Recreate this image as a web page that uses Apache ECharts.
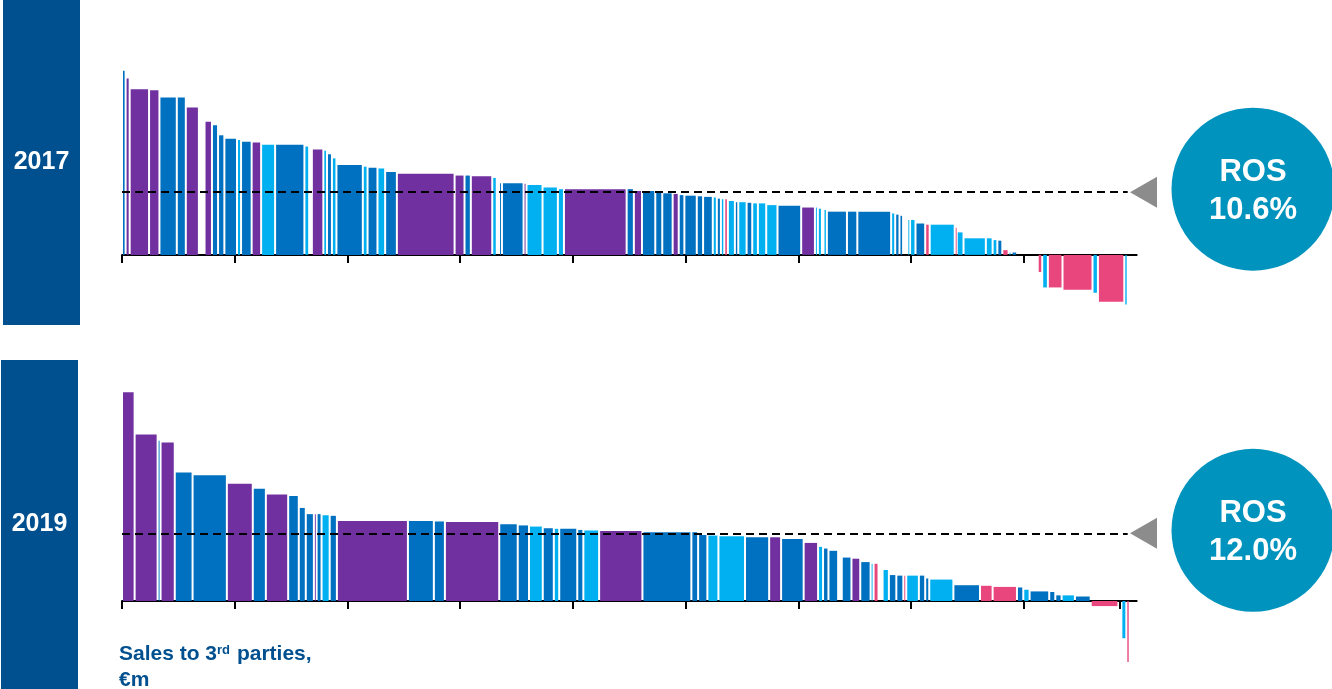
<!DOCTYPE html>
<html>
<head>
<meta charset="utf-8">
<title>ROS by business unit, 2017 vs 2019</title>
<script src="https://cdn.jsdelivr.net/npm/echarts@6/dist/echarts.min.js"></script>
<style>
  html, body { margin: 0; padding: 0; background: #ffffff; }
  #chart { width: 1332px; height: 689px; }
</style>
</head>
<body>
<div id="chart"></div>
<script>
// Panel years and their average return on sales (%)
const years = ['2017', '2019'];
const rosAverage = [10.6, 12.0];

// Segment codes: P, B, L, K = the four business segments, '-' = unit not shown
// 2017: sales to 3rd parties (€m) = bar width, ROS (%) = bar height, sorted by ROS
const sales2017 = [16, 18, 86, 46, 77, 40, 58, 25, 33, 27, 28, 56, 18, 47, 42, 62, 130, 21, 12, 51,
  16, 22, 20, 117, 21, 44, 34, 52, 256, 44, 28, 95, 20, 10, 13, 96, 13, 71, 68, 27,
  278, 32, 36, 59, 31, 46, 27, 25, 55, 28, 43, 18, 18, 15, 16, 31, 15, 37, 25, 25,
  37, 50, 105, 61, 13, 18, 7, 15, 89, 46, 150, 18, 19, 16, 19, 12, 24, 43, 20, 111,
  9, 30, 99, 30, 21, 22, 28, 13, 25, 91, 20, 25, 65, 133, 24, 117, 15];
const ros2017 = [31.1, 29.8, 28.0, 27.8, 26.6, 26.6, 24.9, null, 22.5, 21.9, 20.2, 19.6, 19.4, 19.1, 19.0, 18.6, 18.6, 18.3, null, 17.8,
  17.6, 17.0, 16.3, 15.2, 14.9, 14.7, 14.6, 14.0, 13.7, 13.4, 13.4, 13.3, 13.0, null, 12.1, 12.1, 12.0, 11.8, 11.4, 11.1,
  11.1, 11.1, 10.8, 10.8, 10.5, 10.4, 10.3, 10.1, 10.0, 9.9, 9.8, 9.7, 9.5, 9.4, 9.4, 9.1, 8.9, 8.9, 8.8, 8.7,
  8.7, 8.4, 8.3, 8.0, 8.0, 7.8, null, 7.6, 7.3, 7.3, 7.3, 7.0, 6.8, 6.6, null, 5.9, 5.9, 5.3, 5.1, 5.1,
  4.6, 3.8, 2.8, 2.8, 2.5, 2.4, 0.8, 0.4, 0.4, null, -2.9, -5.5, -5.5, -5.9, -6.4, -7.9, -8.4];
const seg2017 = ['B', 'P', 'P', 'P', 'B', 'B', 'P', '-', 'P', 'B', 'B', 'B', 'L', 'B', 'P', 'L', 'B', 'L', '-', 'P',
  'L', 'B', 'L', 'B', 'L', 'B', 'L', 'B', 'P', 'P', 'B', 'P', 'L', '-', 'B', 'B', 'P', 'L', 'L', 'L',
  'P', 'B', 'P', 'B', 'B', 'B', 'P', 'B', 'B', 'B', 'B', 'L', 'B', 'L', 'K', 'L', 'B', 'L', 'B', 'L',
  'L', 'L', 'B', 'P', 'L', 'L', '-', 'L', 'B', 'B', 'B', 'L', 'B', 'B', '-', 'L', 'L', 'B', 'K', 'L',
  'K', 'L', 'L', 'L', 'L', 'B', 'K', 'L', 'B', '-', 'K', 'L', 'K', 'K', 'L', 'K', 'L'];

// 2019
const sales2019 = [56, 102, 13, 63, 79, 152, 115, 58, 99, 47, 31, 36, 12, 22, 36, 32, 315, 115, 49, 241,
  82, 50, 61, 49, 24, 80, 27, 70, 192, 217, 30, 41, 49, 118, 107, 53, 100, 64, 22, 24,
  43, 16, 43, 39, 46, 13, 22, 18, 28, 33, 31, 13, 56, 28, 18, 107, 118, 56, 108, 28,
  28, 87, 27, 28, 59, 70, 123, 13, 22, 15];
const ros2019 = [37.0, 29.5, 28.4, 28.1, 22.8, 22.3, 20.8, 19.9, 18.9, 18.6, 16.5, 15.4, 15.4, 15.4, 15.2, 15.1, 14.2, 14.2, 14.1, 14.0,
  13.6, 13.4, 13.2, 12.9, 12.8, 12.8, 12.6, 12.5, 12.4, 12.2, 12.2, 11.7, 11.6, 11.5, 11.3, 11.3, 11.0, 10.3, 9.6, 9.3,
  8.9, null, 7.7, 7.5, 6.9, 6.6, 6.6, null, 5.5, 4.6, 4.5, 4.5, 4.5, 4.5, 4.0, 3.8, 2.8, 2.7, 2.5, 2.4,
  2.0, 1.7, 1.6, 1.0, 1.0, 0.8, -0.9, null, -6.6, -10.8];
const seg2019 = ['P', 'P', 'B', 'P', 'B', 'B', 'P', 'B', 'P', 'B', 'B', 'B', 'P', 'B', 'L', 'B', 'P', 'B', 'B', 'P',
  'B', 'B', 'L', 'B', 'L', 'B', 'B', 'L', 'P', 'B', 'B', 'B', 'L', 'L', 'B', 'P', 'B', 'P', 'L', 'B',
  'B', '-', 'B', 'P', 'B', 'L', 'K', '-', 'L', 'B', 'B', 'K', 'L', 'B', 'B', 'L', 'B', 'K', 'K', 'B',
  'L', 'B', 'B', 'B', 'L', 'B', 'K', '-', 'L', 'K'];

// Position of the axis ticks along the sales axis (€m); the last one marks total sales
const salesTicks = [0, 500, 1000, 1500, 2000, 2500, 3000, 3500, 4000, 4425];

// ---- styling ----
const SEG_COLORS = { P: '#7030A0', B: '#0070C0', L: '#00B0F0', K: '#E8467C' };
const SEG_KEYS = ['P', 'B', 'L', 'K'];
const DARK_BLUE = '#00508F';
const BUBBLE = '#0093BD';
const FONT = '"Liberation Sans", Arial, Helvetica, sans-serif';
const BAR_GAP = 2;          // white gap between neighbouring units, px
const DASH_END = 4460;      // where the average line stops, €m

// Cumulative x-range of each unit; units marked '-' take up room but draw nothing
function buildBars(sales, ros, seg) {
  const out = [];
  let acc = 0;
  for (let i = 0; i < sales.length; i++) {
    if (ros[i] !== null && seg[i] !== '-') {
      out.push([acc, acc + sales[i], ros[i], SEG_KEYS.indexOf(seg[i])]);
    }
    acc += sales[i];
  }
  return out;
}

function renderBar(params, api) {
  const p0 = api.coord([api.value(0), 0]);
  const p1 = api.coord([api.value(1), api.value(2)]);
  const w = Math.max(p1[0] - p0[0] - BAR_GAP, 0.9);
  const y = Math.min(p0[1], p1[1]);
  const h = Math.abs(p1[1] - p0[1]);
  return {
    type: 'rect',
    shape: { x: p0[0] + 1, y: y, width: w, height: h },
    style: { fill: SEG_COLORS[SEG_KEYS[api.value(3)]] }
  };
}

const panelBars = [buildBars(sales2017, ros2017, seg2017), buildBars(sales2019, ros2019, seg2019)];

// grid geometry per panel
const panels = [
  { top: 40, height: 280, min: -11.0, max: 36.3 },
  { top: 380, height: 290, min: -12.23, max: 39.18 }
];

const chart = echarts.init(document.getElementById('chart'), null, { renderer: 'canvas' });

const option = {
  animation: false,
  backgroundColor: '#ffffff',
  grid: panels.map(p => ({ left: 122, width: 1014.7, top: p.top, height: p.height })),
  xAxis: panels.map((p, i) => ({
    type: 'value',
    gridIndex: i,
    min: 0,
    max: 4500,
    interval: 500,
    axisLine: { show: true, onZero: true, lineStyle: { color: '#000000', width: 2 } },
    axisTick: { show: true, length: 8, customValues: salesTicks, lineStyle: { color: '#000000', width: 2 } },
    axisLabel: { show: false },
    splitLine: { show: false }
  })),
  yAxis: panels.map((p, i) => ({
    type: 'value',
    gridIndex: i,
    min: p.min,
    max: p.max,
    show: false,
    splitLine: { show: false }
  })),
  series: panelBars.map((bars, i) => ({
    type: 'custom',
    name: years[i],
    xAxisIndex: i,
    yAxisIndex: i,
    dimensions: ['start', 'end', 'ros', 'segment'],
    encode: { x: [0, 1], y: 2 },
    data: bars,
    renderItem: renderBar,
    silent: true,
    markLine: {
      silent: true,
      symbol: ['none', 'none'],
      label: { show: false },
      lineStyle: { color: '#000000', width: 2, type: [8, 5] },
      data: [[{ coord: [0, rosAverage[i]] }, { coord: [DASH_END, rosAverage[i]] }]]
    }
  }))
};

chart.setOption(option);

// Year labels, average-ROS bubbles and the axis caption
const graphics = [];
const yearBoxes = [
  { x: 3, y: 0, w: 77, h: 325 },
  { x: 1, y: 360, w: 77, h: 329 }
];
years.forEach((yr, i) => {
  const b = yearBoxes[i];
  graphics.push({
    type: 'rect', shape: { x: b.x, y: b.y, width: b.w, height: b.h },
    style: { fill: DARK_BLUE }, silent: true
  });
  graphics.push({
    type: 'text', x: b.x + b.w / 2, y: b.y + b.h / 2,
    style: { text: yr, fill: '#ffffff', font: 'bold 25px ' + FONT, align: 'center', verticalAlign: 'middle' },
    silent: true
  });

  const yLine = chart.convertToPixel({ yAxisIndex: i }, rosAverage[i]);
  graphics.push({
    type: 'polygon',
    shape: { points: [[1130, yLine], [1157, yLine - 15.5], [1157, yLine + 15.5]] },
    style: { fill: '#8C8C8C' }, silent: true
  });
  const cy = yLine - 3;
  graphics.push({
    type: 'circle', shape: { cx: 1253, cy: cy, r: 81.5 },
    style: { fill: BUBBLE }, silent: true
  });
  graphics.push({
    type: 'text', x: 1253, y: cy - 17,
    style: { text: 'ROS', fill: '#ffffff', font: 'bold 31px ' + FONT, align: 'center', verticalAlign: 'middle' },
    silent: true
  });
  graphics.push({
    type: 'text', x: 1253, y: cy + 21,
    style: { text: rosAverage[i].toFixed(1) + '%', fill: '#ffffff', font: 'bold 31px ' + FONT, align: 'center', verticalAlign: 'middle' },
    silent: true
  });
});

graphics.push({
  type: 'text', x: 119, y: 639,
  style: {
    text: '{a|Sales to 3}{s|rd}{a| parties,}\n{a|€m}',
    rich: {
      a: { font: 'bold 21px ' + FONT, fill: DARK_BLUE, lineHeight: 26, verticalAlign: 'bottom' },
      s: { font: 'bold 13px ' + FONT, fill: DARK_BLUE, lineHeight: 26, verticalAlign: 'top', padding: [5, 1, 0, 0] }
    },
    align: 'left', verticalAlign: 'top'
  },
  silent: true
});

chart.setOption({ graphic: graphics });
</script>
</body>
</html>
